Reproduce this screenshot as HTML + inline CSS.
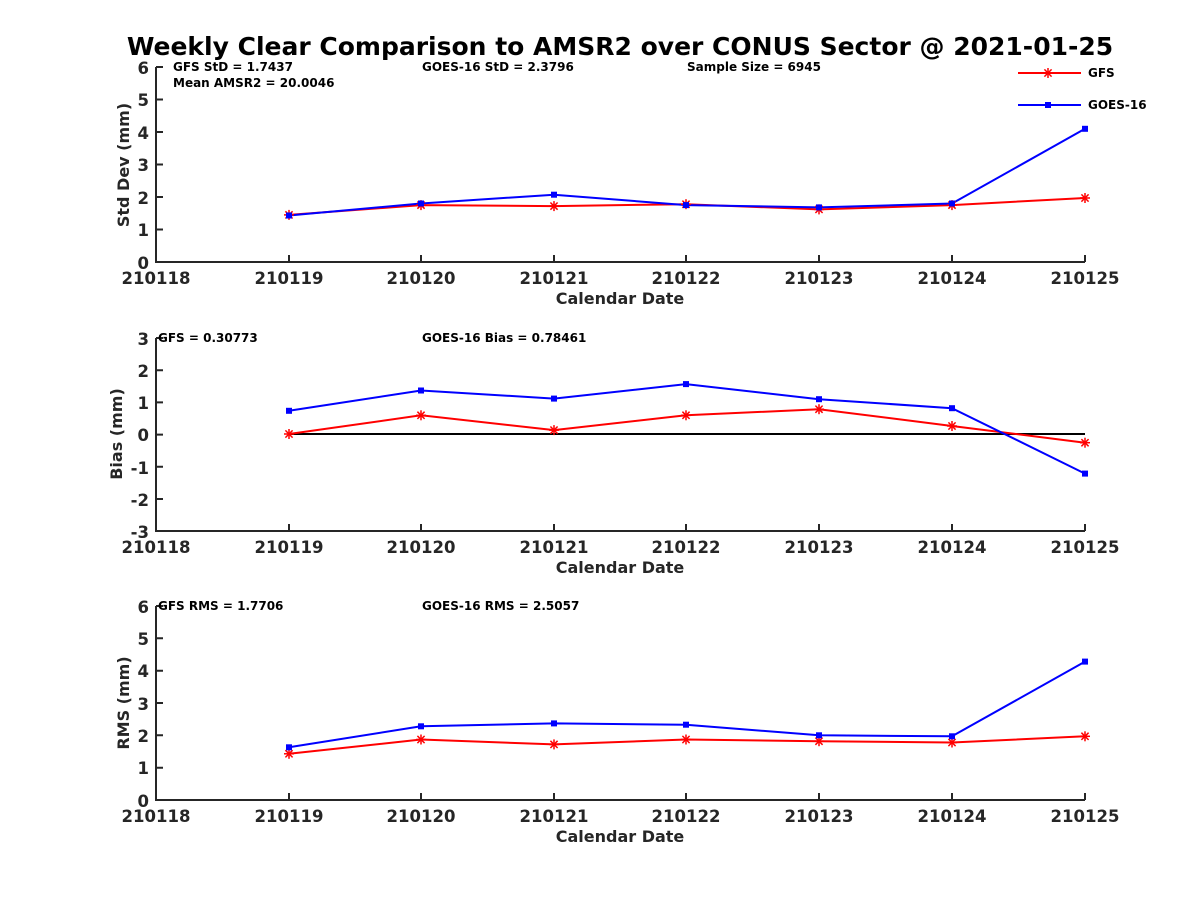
<!DOCTYPE html><html><head><style>body{margin:0;background:#fff}svg{display:block}</style></head><body>
<svg width="1200" height="900" xmlns="http://www.w3.org/2000/svg" font-family="DejaVu Sans, Liberation Sans, sans-serif" font-weight="bold">
<defs>
<g id="st" stroke="#ff0000" stroke-width="1.5"><line x1="-5" y1="0" x2="5" y2="0"/><line x1="0" y1="-5" x2="0" y2="5"/><line x1="-3.6" y1="-3.6" x2="3.6" y2="3.6"/><line x1="-3.6" y1="3.6" x2="3.6" y2="-3.6"/></g>
<rect id="sq" x="-3" y="-3" width="6" height="6" fill="#0000ff"/>
</defs>
<text x="620" y="55" font-size="25" text-anchor="middle" fill="#000">Weekly Clear Comparison to AMSR2 over CONUS Sector @ 2021-01-25</text>

<!-- Panel 1 -->
<g stroke="#262626" stroke-width="2" fill="none">
<path d="M156,67 V262 H1085"/>
<path d="M156,67h7M156,99.5h7M156,132h7M156,164.5h7M156,197h7M156,229.5h7"/>
<path d="M289,262v-7M421,262v-7M554,262v-7M686,262v-7M819,262v-7M952,262v-7M1085,262v-7"/>
</g>
<g font-size="16.5" fill="#262626" text-anchor="end">
<text x="149" y="74">6</text><text x="149" y="106">5</text><text x="149" y="139">4</text><text x="149" y="171">3</text><text x="149" y="204">2</text><text x="149" y="236">1</text><text x="149" y="269">0</text>
</g>
<g font-size="16.5" fill="#262626" text-anchor="middle">
<text x="156" y="284">210118</text><text x="289" y="284">210119</text><text x="421" y="284">210120</text><text x="554" y="284">210121</text><text x="686" y="284">210122</text><text x="819" y="284">210123</text><text x="952" y="284">210124</text><text x="1085" y="284">210125</text>
<text x="620" y="304" font-size="16">Calendar Date</text>
<text transform="translate(129,165) rotate(-90)" font-size="16">Std Dev (mm)</text>
</g>
<g font-size="12" fill="#000"><text x="173" y="71">GFS StD = 1.7437</text><text x="173" y="87">Mean AMSR2 = 20.0046</text><text x="422" y="71">GOES-16 StD = 2.3796</text><text x="687" y="71">Sample Size = 6945</text></g>
<polyline fill="none" stroke="#ff0000" stroke-width="2" points="289,214.9 421,205.1 554,206.1 686,204.2 819,209.4 952,205.1 1085,198"/>
<polyline fill="none" stroke="#0000ff" stroke-width="2" points="289,215.5 421,203.5 554,194.7 686,205.1 819,207.4 952,203.5 1085,128.8"/>
<use href="#st" x="289" y="214.9"/><use href="#st" x="421" y="205.1"/><use href="#st" x="554" y="206.1"/><use href="#st" x="686" y="204.2"/><use href="#st" x="819" y="209.4"/><use href="#st" x="952" y="205.1"/><use href="#st" x="1085" y="198"/>
<use href="#sq" x="289" y="215.5"/><use href="#sq" x="421" y="203.5"/><use href="#sq" x="554" y="194.7"/><use href="#sq" x="686" y="205.1"/><use href="#sq" x="819" y="207.4"/><use href="#sq" x="952" y="203.5"/><use href="#sq" x="1085" y="128.8"/>
<!-- legend -->
<line x1="1018" y1="73" x2="1081" y2="73" stroke="#ff0000" stroke-width="2"/><use href="#st" x="1048" y="73"/>
<text x="1088" y="77" font-size="12">GFS</text>
<line x1="1018" y1="105" x2="1081" y2="105" stroke="#0000ff" stroke-width="2"/><use href="#sq" x="1048" y="105"/>
<text x="1088" y="109" font-size="12">GOES-16</text>

<!-- Panel 2 -->
<g stroke="#262626" stroke-width="2" fill="none">
<path d="M156,338 V531 H1085"/>
<path d="M156,338h7M156,370.2h7M156,402.4h7M156,434.6h7M156,466.8h7M156,499h7"/>
<path d="M289,531v-7M421,531v-7M554,531v-7M686,531v-7M819,531v-7M952,531v-7M1085,531v-7"/>
</g>
<line x1="289" y1="434" x2="1085" y2="434" stroke="#000" stroke-width="2"/>
<g font-size="16.5" fill="#262626" text-anchor="end">
<text x="149" y="345">3</text><text x="149" y="377">2</text><text x="149" y="409">1</text><text x="149" y="441">0</text><text x="149" y="474">-1</text><text x="149" y="506">-2</text><text x="149" y="538">-3</text>
</g>
<g font-size="16.5" fill="#262626" text-anchor="middle">
<text x="156" y="553">210118</text><text x="289" y="553">210119</text><text x="421" y="553">210120</text><text x="554" y="553">210121</text><text x="686" y="553">210122</text><text x="819" y="553">210123</text><text x="952" y="553">210124</text><text x="1085" y="553">210125</text>
<text x="620" y="573" font-size="16">Calendar Date</text>
<text transform="translate(122,434) rotate(-90)" font-size="16">Bias (mm)</text>
</g>
<g font-size="12" fill="#000"><text x="158" y="342">GFS = 0.30773</text><text x="422" y="342">GOES-16 Bias  = 0.78461</text></g>
<polyline fill="none" stroke="#ff0000" stroke-width="2" points="289,434 421,415.3 554,430.1 686,415.3 819,409.2 952,426 1085,442.7"/>
<polyline fill="none" stroke="#0000ff" stroke-width="2" points="289,410.8 421,390.5 554,398.6 686,384.1 819,399.2 952,408.2 1085,473.6"/>
<use href="#st" x="289" y="434"/><use href="#st" x="421" y="415.3"/><use href="#st" x="554" y="430.1"/><use href="#st" x="686" y="415.3"/><use href="#st" x="819" y="409.2"/><use href="#st" x="952" y="426"/><use href="#st" x="1085" y="442.7"/>
<use href="#sq" x="289" y="410.8"/><use href="#sq" x="421" y="390.5"/><use href="#sq" x="554" y="398.6"/><use href="#sq" x="686" y="384.1"/><use href="#sq" x="819" y="399.2"/><use href="#sq" x="952" y="408.2"/><use href="#sq" x="1085" y="473.6"/>

<!-- Panel 3 -->
<g stroke="#262626" stroke-width="2" fill="none">
<path d="M156,606 V800 H1085"/>
<path d="M156,606h7M156,638.3h7M156,670.7h7M156,703h7M156,735.3h7M156,767.7h7"/>
<path d="M289,800v-7M421,800v-7M554,800v-7M686,800v-7M819,800v-7M952,800v-7M1085,800v-7"/>
</g>
<g font-size="16.5" fill="#262626" text-anchor="end">
<text x="149" y="613">6</text><text x="149" y="645">5</text><text x="149" y="677">4</text><text x="149" y="710">3</text><text x="149" y="742">2</text><text x="149" y="774">1</text><text x="149" y="807">0</text>
</g>
<g font-size="16.5" fill="#262626" text-anchor="middle">
<text x="156" y="822">210118</text><text x="289" y="822">210119</text><text x="421" y="822">210120</text><text x="554" y="822">210121</text><text x="686" y="822">210122</text><text x="819" y="822">210123</text><text x="952" y="822">210124</text><text x="1085" y="822">210125</text>
<text x="620" y="842" font-size="16">Calendar Date</text>
<text transform="translate(129,703) rotate(-90)" font-size="16">RMS (mm)</text>
</g>
<g font-size="12" fill="#000"><text x="158" y="610">GFS RMS = 1.7706</text><text x="422" y="610">GOES-16 RMS = 2.5057</text></g>
<polyline fill="none" stroke="#ff0000" stroke-width="2" points="289,753.8 421,739.5 554,744.4 686,739.5 819,741.2 952,742.5 1085,736.3"/>
<polyline fill="none" stroke="#0000ff" stroke-width="2" points="289,747.3 421,726.3 554,723.4 686,724.7 819,735.3 952,736.3 1085,661.6"/>
<use href="#st" x="289" y="753.8"/><use href="#st" x="421" y="739.5"/><use href="#st" x="554" y="744.4"/><use href="#st" x="686" y="739.5"/><use href="#st" x="819" y="741.2"/><use href="#st" x="952" y="742.5"/><use href="#st" x="1085" y="736.3"/>
<use href="#sq" x="289" y="747.3"/><use href="#sq" x="421" y="726.3"/><use href="#sq" x="554" y="723.4"/><use href="#sq" x="686" y="724.7"/><use href="#sq" x="819" y="735.3"/><use href="#sq" x="952" y="736.3"/><use href="#sq" x="1085" y="661.6"/>
</svg>
</body></html>
